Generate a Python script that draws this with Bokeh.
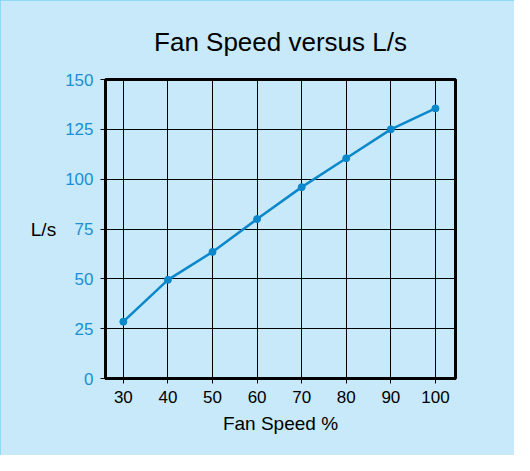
from bokeh.plotting import figure
from bokeh.models import Range1d, FixedTicker, Title
from bokeh.embed import file_html
from bokeh.resources import INLINE

fan_speed = [30, 40, 50, 60, 70, 80, 90, 100]
flow_ls = [28.5, 49.5, 63.5, 80, 96, 110.5, 125, 135.5]
x_ticks = [30, 40, 50, 60, 70, 80, 90, 100]
y_ticks = [0, 25, 50, 75, 100, 125, 150]

BG = "#c7e9f9"
BLUE = "#0b87cb"
FONT = "Liberation Sans"

p = figure(width=514, height=455, output_backend="svg", toolbar_location=None,
           x_range=Range1d(26, 104.5), y_range=Range1d(0, 150),
           min_border_left=105, min_border_right=59, min_border_top=79, min_border_bottom=77)

p.background_fill_color = BG
p.border_fill_color = BG
p.outline_line_color = "black"
p.outline_line_width = 3

t = Title(text="Fan Speed versus L/s", align="center", text_font=FONT,
          text_font_size="26px", text_font_style="normal", text_color="black",
          standoff=46)
p.add_layout(t, "above")

p.line(fan_speed, flow_ls, line_color=BLUE, line_width=2.5)
p.scatter(fan_speed, flow_ls, size=7, fill_color=BLUE, line_color=BLUE)

p.xaxis.ticker = FixedTicker(ticks=x_ticks)
p.yaxis.ticker = FixedTicker(ticks=y_ticks)

for ax in (p.xaxis, p.yaxis):
    ax.axis_line_color = "black"
    ax.axis_line_width = 3
    ax.major_tick_line_color = "black"
    ax.major_tick_line_width = 1
    ax.major_tick_out = 5
    ax.major_tick_in = 0
    ax.minor_tick_line_color = None
    ax.major_label_text_font = FONT
    ax.major_label_text_font_size = "17px"
    ax.axis_label_text_font = FONT
    ax.axis_label_text_font_size = "19px"
    ax.axis_label_text_font_style = "normal"
    ax.axis_label_text_color = "black"
    ax.major_label_standoff = 7

p.xaxis.major_label_text_color = "black"
p.yaxis.major_label_text_color = "#1b8fd2"
p.xaxis.axis_label = "Fan Speed %"
p.yaxis.axis_label = "L/s"
p.yaxis.axis_label_orientation = "horizontal"
p.xaxis.axis_label_standoff = 7
p.yaxis.axis_label_standoff = 6

p.grid.grid_line_color = "black"
p.grid.grid_line_width = 1
p.grid.grid_line_alpha = 1

p.styles = {"outline": "2px solid #7fd4f6", "outline-offset": "-2px"}

open("out.html", "w").write(file_html(p, INLINE))
